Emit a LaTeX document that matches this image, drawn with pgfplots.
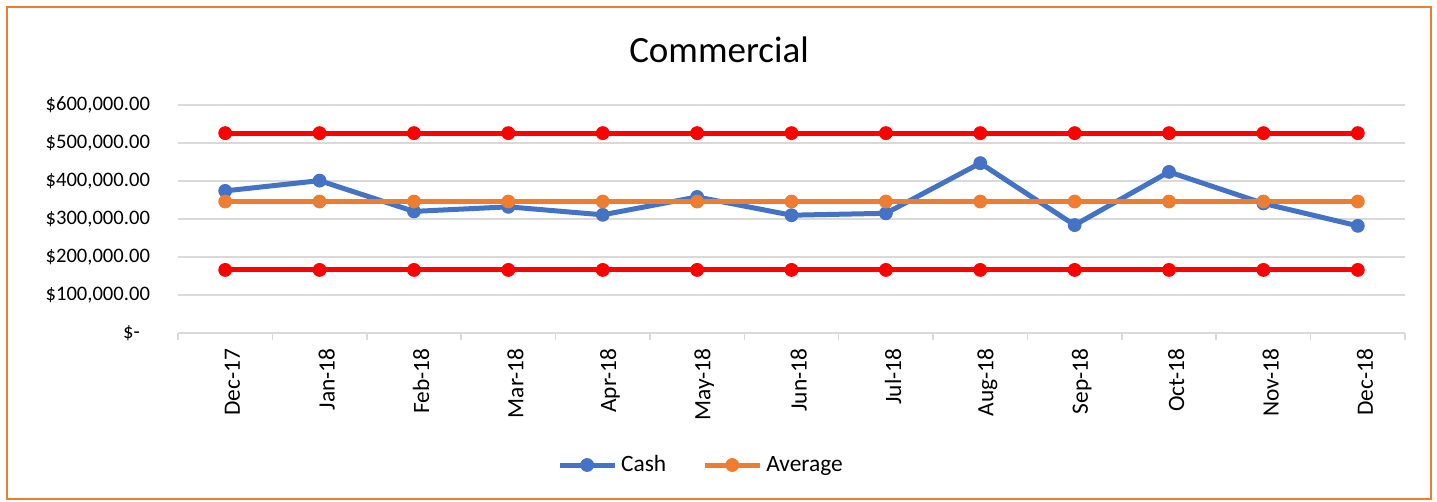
\documentclass[border=0pt]{standalone}
\usepackage{fontspec}
\setmainfont{Carlito}
\usepackage{pgfplots}
\usepackage{pgfplotstable}
\pgfplotsset{compat=1.18}

\definecolor{cashblue}{HTML}{4472C4}
\definecolor{avgorange}{HTML}{ED7D31}
\definecolor{limitred}{HTML}{FF0000}
\definecolor{gridgray}{HTML}{D9D9D9}

% monthly cash, its average and the two control limits
\pgfplotstableread{
x cash avg ucl lcl
0  374000 346000 526000 166000
1  401000 346000 526000 166000
2  320000 346000 526000 166000
3  332000 346000 526000 166000
4  311000 346000 526000 166000
5  358000 346000 526000 166000
6  310000 346000 526000 166000
7  315000 346000 526000 166000
8  447000 346000 526000 166000
9  284000 346000 526000 166000
10 424000 346000 526000 166000
11 341000 346000 526000 166000
12 282000 346000 526000 166000
}\cashtable

\begin{document}
\begin{tikzpicture}
\useasboundingbox (0,0) rectangle (718.5pt,-251pt);
\draw[avgorange, line width=1pt] (3.4pt,-3.4pt) rectangle (715.5pt,-249.7pt);
\node[font=\fontsize{18.5}{22}\selectfont] at (359.5pt,-25pt) {Commercial};
\begin{axis}[
    at={(89pt,-166.5pt)}, anchor=south west,
    width=613.5pt, height=114pt, scale only axis,
    xmin=-0.5, xmax=12.5,
    ymin=0, ymax=600000,
    axis x line*=bottom,
    axis y line*=left,
    y axis line style={draw=none},
    x axis line style={gridgray, line width=0.75pt},
    xtick={0,...,12},
    xticklabels={Dec-17,Jan-18,Feb-18,Mar-18,Apr-18,May-18,Jun-18,Jul-18,Aug-18,Sep-18,Oct-18,Nov-18,Dec-18},
    minor xtick={-0.5,0.5,...,12.5},
    major x tick style={draw=none},
    minor x tick style={gridgray, line width=0.75pt},
    minor tick length=3.5pt,
    xtick align=outside,
    xticklabel style={rotate=90, anchor=east, yshift=-3.6pt, font=\fontsize{11.7}{14}\selectfont},
    ytick={0,100000,...,600000},
    yticklabels={{\$-\hspace*{5pt}},{\$100,000.00},{\$200,000.00},{\$300,000.00},{\$400,000.00},{\$500,000.00},{\$600,000.00}},
    scaled y ticks=false,
    ytick style={draw=none},
    yticklabel style={xshift=-10.5pt, font=\fontsize{10.3}{12}\selectfont},
    ymajorgrids,
    major grid style={gridgray, line width=0.75pt},
    legend columns=2,
    legend style={
        at={(axis description cs:0.427,-0.579)}, anchor=center,
        draw=none, font=\fontsize{11.7}{14}\selectfont,
        /tikz/every even column/.append style={column sep=16pt},
    },
    legend image code/.code={
        \draw[mark repeat=2, mark phase=2] plot coordinates {(0pt,0pt) (13.75pt,0pt) (27.5pt,0pt)};
    },
    every axis plot/.append style={line width=2.5pt, mark=*, mark size=3.2pt},
]
\addplot[cashblue, mark options={fill=cashblue, line width=0.5pt}] table[x=x, y=cash] {\cashtable};
\addlegendentry{Cash}
\addplot[avgorange, mark options={fill=avgorange, line width=0.5pt}] table[x=x, y=avg] {\cashtable};
\addlegendentry{Average}
\addplot[limitred, mark options={fill=limitred, line width=0.5pt}, forget plot] table[x=x, y=ucl] {\cashtable};
\addplot[limitred, mark options={fill=limitred, line width=0.5pt}, forget plot] table[x=x, y=lcl] {\cashtable};
\end{axis}
\end{tikzpicture}
\end{document}
